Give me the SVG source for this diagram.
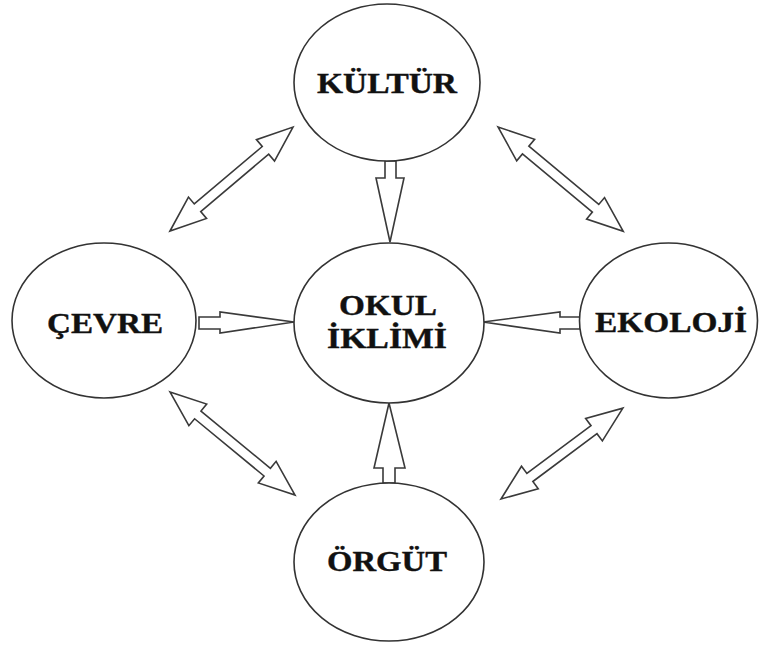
<svg xmlns="http://www.w3.org/2000/svg" width="759" height="646" viewBox="0 0 759 646">
  <defs>
    <style>
      .node ellipse { fill: #ffffff; stroke: #333333; stroke-width: 1.6; }
      .node text { font-family: "Liberation Serif", "Times New Roman", serif; font-weight: bold; font-size: 29px; fill: #111111; stroke: #111111; stroke-width: 0.4; }
      .arrow { fill: #ffffff; stroke: #3a3a3a; stroke-width: 1.6; stroke-linejoin: miter; }
    </style>
  </defs>
  <rect width="759" height="646" fill="#ffffff"/>

  <g id="connectors">
    <!-- single arrows into OKUL İKLİMİ -->
    <polygon class="arrow" points="385,161 396,161 396,178 404,178 390,242 376,178 385,178"/>
    <polygon class="arrow" points="383,483 395,483 395,468 405,468 389,403 374,468 383,468"/>
    <polygon class="arrow" points="199,317 220,317 220,312 294,322 220,333 220,329 199,329"/>
    <polygon class="arrow" points="580,317 560,317 560,312 483,322 560,333 560,329 580,329"/>
    <!-- double arrows -->
    <polygon class="arrow" transform="translate(170,231) rotate(-40.2)" points="0,0 36,-14 36,-5 125,-5 125,-14 161,0 125,14 125,5 36,5 36,14"/>
    <polygon class="arrow" transform="translate(498,127) rotate(39.8)" points="0,0 36,-14 36,-5 127,-5 127,-14 163,0 127,14 127,5 36,5 36,14"/>
    <polygon class="arrow" transform="translate(170,392) rotate(39.5)" points="0,0 36,-14 36,-5 126,-5 126,-14 162,0 126,14 126,5 36,5 36,14"/>
    <polygon class="arrow" transform="translate(501,499) rotate(-36.7)" points="0,0 36,-14 36,-5 116,-5 116,-14 152,0 116,14 116,5 36,5 36,14"/>
  </g>

  <g id="kultur" class="node">
    <ellipse cx="387" cy="82.5" rx="93" ry="78.5"/>
    <text x="317" y="93" textLength="140" lengthAdjust="spacingAndGlyphs">KÜLTÜR</text>
  </g>
  <g id="okul-iklimi" class="node">
    <ellipse cx="389" cy="323" rx="95" ry="80"/>
    <text x="339" y="315" textLength="98" lengthAdjust="spacingAndGlyphs">OKUL</text>
    <text x="327" y="348" textLength="120" lengthAdjust="spacingAndGlyphs">İKLİMİ</text>
  </g>
  <g id="cevre" class="node">
    <ellipse cx="104" cy="320.5" rx="92" ry="77.5"/>
    <text x="47" y="333" textLength="116" lengthAdjust="spacingAndGlyphs">ÇEVRE</text>
  </g>
  <g id="ekoloji" class="node">
    <ellipse cx="668.5" cy="320.5" rx="89" ry="77.5"/>
    <text x="595" y="332" textLength="152" lengthAdjust="spacingAndGlyphs">EKOLOJİ</text>
  </g>
  <g id="orgut" class="node">
    <ellipse cx="389" cy="562" rx="95" ry="79"/>
    <text x="327" y="571" textLength="120" lengthAdjust="spacingAndGlyphs">ÖRGÜT</text>
  </g>
</svg>
